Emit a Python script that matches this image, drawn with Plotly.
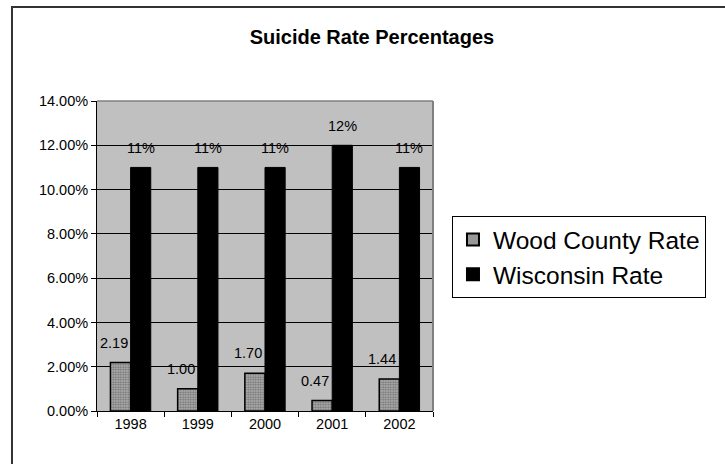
import plotly.graph_objects as go

years = ["1998", "1999", "2000", "2001", "2002"]
wood_rate = [2.19, 1.00, 1.70, 0.47, 1.44]
wood_labels = ["2.19", "1.00", "1.70", "0.47", "1.44"]
wisc_rate = [11, 11, 11, 12, 11]
wisc_labels = ["11%", "11%", "11%", "12%", "11%"]
y_ticks = [0, 2, 4, 6, 8, 10, 12, 14]
y_tick_text = [f"{v:.2f}%" for v in y_ticks]

FONT = "Liberation Sans, Arial, sans-serif"

fig = go.Figure()
fig.add_trace(go.Bar(
    x=years, y=wood_rate, name="Wood County Rate",
    marker=dict(color="#a0a0a0", line=dict(color="black", width=1.5),
                pattern=dict(shape=".", size=2.5, solidity=0.6,
                             fgcolor="#303030", bgcolor="#bcbcbc")),
))
fig.add_trace(go.Bar(
    x=years, y=wisc_rate, name="Wisconsin Rate",
    marker=dict(color="black", line=dict(color="black", width=1)),
))

annotations = []
for i, (v, t) in enumerate(zip(wood_rate, wood_labels)):
    annotations.append(dict(x=i, y=v, xref="x", yref="y", text=t, showarrow=False,
                            xshift=-17, yshift=20, font=dict(size=14.5, color="black", family=FONT)))
for i, (v, t) in enumerate(zip(wisc_rate, wisc_labels)):
    annotations.append(dict(x=i, y=v, xref="x", yref="y", text=t, showarrow=False,
                            xshift=10, yshift=19, font=dict(size=14.5, color="black", family=FONT)))

shapes = [
    dict(type="rect", xref="paper", yref="paper", x0=-0.253, x1=2.2, y0=-0.6, y1=1.303,
         line=dict(color="#333333", width=2), fillcolor="rgba(0,0,0,0)", layer="below"),
    dict(type="line", xref="paper", yref="paper", x0=0, x1=1, y0=1, y1=1,
         line=dict(color="#808080", width=1.5), layer="above"),
    dict(type="line", xref="paper", yref="paper", x0=1, x1=1, y0=0, y1=1,
         line=dict(color="#808080", width=2), layer="above"),
]

fig.update_layout(
    width=725, height=464,
    margin=dict(l=97, r=292, t=101, b=53),
    paper_bgcolor="white", plot_bgcolor="#c0c0c0",
    font=dict(family=FONT, color="black", size=14),
    title=dict(text="<b>Suicide Rate Percentages</b>", x=0.513, xanchor="center",
               y=0.92, yanchor="middle", font=dict(size=20, family=FONT, color="black")),
    barmode="group", bargap=0.4, bargroupgap=0,
    showlegend=True,
    legend=dict(x=1.0565, y=0.629, xanchor="left", yanchor="top",
                bordercolor="black", borderwidth=1, bgcolor="white",
                font=dict(size=24.5, family=FONT, color="black"),
                itemsizing="constant", tracegroupgap=0),
    annotations=annotations,
    shapes=shapes,
)
fig.update_xaxes(type="category", range=[-0.5, 4.5], autorange=False,
                 showline=True, linecolor="black", linewidth=1,
                 ticks="outside", tickson="boundaries", ticklen=5, tickcolor="black",
                 showgrid=False, tickfont=dict(size=14.5), tickangle=0)
fig.update_yaxes(range=[0, 14], autorange=False, tickvals=y_ticks, ticktext=y_tick_text,
                 showline=True, linecolor="black", linewidth=1,
                 ticks="outside", ticklen=5, tickcolor="black",
                 showgrid=True, gridcolor="black", gridwidth=1,
                 zeroline=False, tickfont=dict(size=14.5))

fig.write_html("out.html", config={"displayModeBar": False, "staticPlot": True},
               post_script="document.body.style.margin='0px';")
